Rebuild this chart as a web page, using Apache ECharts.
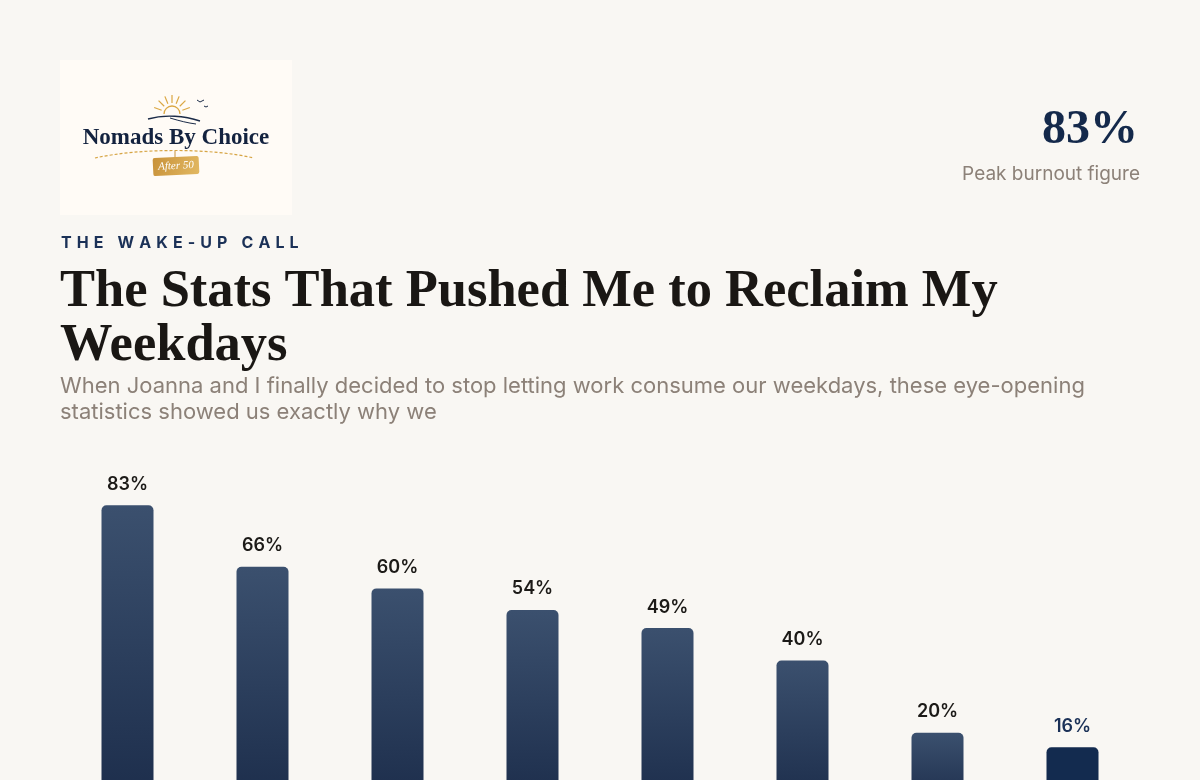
<!DOCTYPE html>
<html>
<head>
<meta charset="utf-8">
<script src="https://cdn.jsdelivr.net/npm/echarts@6/dist/echarts.min.js"></script>
<style>
  html, body { margin: 0; padding: 0; background: #f9f7f3; overflow: hidden; }
  #chart { width: 1200px; height: 860px; }
</style>
</head>
<body>
<div id="chart"></div>
<script>
// ---- Data ----
const categories = ['Stat 1', 'Stat 2', 'Stat 3', 'Stat 4', 'Stat 5', 'Stat 6', 'Stat 7', 'Stat 8'];
const values = [83, 66, 60, 54, 49, 40, 20, 16];
const highlightIndex = 7;
const eyebrow = 'THE WAKE-UP CALL';
const titleLines = ['The Stats That Pushed Me to Reclaim My', 'Weekdays'];
const subtitleLines = [
  'When Joanna and I finally decided to stop letting work consume our weekdays, these eye-opening',
  'statistics showed us exactly why we'
];
const kpiValue = '83%';
const kpiLabel = 'Peak burnout figure';

// ---- Styling ----
const NAVY = '#14294b';
const SANS = 'Inter, "Noto Sans", sans-serif';
const SERIF = '"Liberation Serif", "DejaVu Serif", serif';

const chart = echarts.init(document.getElementById('chart'), null, { renderer: 'canvas' });

// letter-spaced eyebrow: one text element per character
const mctx = document.createElement('canvas').getContext('2d');
const eyebrowFont = '700 16px Inter';
mctx.font = eyebrowFont;
const eyebrowEls = [];
let ex = 61;
for (const ch of eyebrow) {
  eyebrowEls.push({
    type: 'text', x: ex, y: 243,
    style: { text: ch, fill: '#1b3157', font: eyebrowFont, textVerticalAlign: 'middle' }
  });
  ex += mctx.measureText(ch).width + 5.1;
}

const gold = new echarts.graphic.LinearGradient(0, 0, 1, 1, [
  { offset: 0, color: '#c8923a' }, { offset: 1, color: '#e2b862' }
]);

// sun rays
const sunCx = 172, sunCy = 114;
const rays = [];
[160, 135, 112, 90, 68, 45, 20].forEach(function (a) {
  const r = a * Math.PI / 180;
  rays.push({
    type: 'line',
    shape: {
      x1: sunCx + Math.cos(r) * 11, y1: sunCy - Math.sin(r) * 11,
      x2: sunCx + Math.cos(r) * 19, y2: sunCy - Math.sin(r) * 19
    },
    style: { stroke: '#dba743', lineWidth: 1.2 }
  });
});

const logo = [
  { type: 'rect', shape: { x: 60, y: 60, width: 232, height: 155 }, style: { fill: '#fffbf6' } },
  { type: 'arc', shape: { cx: sunCx, cy: sunCy, r: 8, startAngle: Math.PI, endAngle: 2 * Math.PI },
    style: { stroke: '#dba743', fill: null, lineWidth: 1.3 } }
].concat(rays).concat([
  { type: 'bezierCurve', shape: { x1: 148, y1: 119, x2: 200, y2: 121, cpx1: 165, cpy1: 114, cpx2: 185, cpy2: 116 },
    style: { stroke: '#1b2b48', lineWidth: 1.4, fill: null } },
  { type: 'bezierCurve', shape: { x1: 170, y1: 118, x2: 196, y2: 124, cpx1: 180, cpy1: 121, cpx2: 188, cpy2: 123 },
    style: { stroke: '#1b2b48', lineWidth: 1, fill: null } },
  { type: 'polyline', shape: { points: [[197, 100], [200, 102], [204, 100]] }, style: { stroke: '#1b2b48', lineWidth: 1, fill: null } },
  { type: 'polyline', shape: { points: [[204, 106], [206, 107], [208, 106]] }, style: { stroke: '#1b2b48', lineWidth: 1, fill: null } },
  { type: 'text', x: 176, y: 138, style: { text: 'Nomads By Choice', fill: '#13223f',
      font: '700 23px ' + SERIF, textAlign: 'center', textVerticalAlign: 'middle' } },
  { type: 'bezierCurve', shape: { x1: 95, y1: 158, x2: 254, y2: 158, cpx1: 140, cpy1: 148, cpx2: 210, cpy2: 148 },
    style: { stroke: '#d6a443', lineWidth: 1.2, lineDash: [3, 2], fill: null } },
  { type: 'line', shape: { x1: 175, y1: 151, x2: 175, y2: 158 }, style: { stroke: '#c8923a', lineWidth: 1 } },
  { type: 'group', x: 176, y: 166, rotation: 0.05, children: [
      { type: 'rect', shape: { x: -23, y: -9, width: 46, height: 18, r: 2 }, style: { fill: gold } },
      { type: 'text', x: 0, y: 0, style: { text: 'After 50', fill: '#ffffff',
          font: 'italic 11px ' + SERIF, textAlign: 'center', textVerticalAlign: 'middle' } }
  ] }
]);

const header = [
  { type: 'text', right: 62, top: 107, style: { text: kpiValue, fill: NAVY, font: '700 48px ' + SERIF, textAlign: 'right' } },
  { type: 'text', right: 60, top: 165, style: { text: kpiLabel, fill: '#8c8178', font: '400 19px ' + SANS, textAlign: 'right' } },
  { type: 'text', left: 60, top: 265, style: { text: titleLines.join('\n'), fill: '#1a1714',
      font: '700 52.5px ' + SERIF, lineHeight: 54 } },
  { type: 'text', left: 60, top: 373, style: { text: subtitleLines.join('\n'), fill: '#8c8178',
      font: '400 22px ' + SANS, lineHeight: 26 } }
];

const barGradient = new echarts.graphic.LinearGradient(0, 0, 0, 1, [
  { offset: 0, color: '#3b506e' }, { offset: 1, color: '#1c2d4b' }
]);

const seriesData = values.map(function (v, i) {
  const hi = i === highlightIndex;
  return {
    value: v,
    itemStyle: { color: hi ? '#132b4f' : barGradient },
    label: { color: hi ? '#1b3157' : '#1c1a17' }
  };
});

chart.setOption({
  backgroundColor: '#f9f7f3',
  animation: false,
  grid: { left: 60, top: 444, width: 1080, height: 361, containLabel: false },
  xAxis: {
    type: 'category', data: categories,
    axisLine: { show: false }, axisTick: { show: false }, axisLabel: { show: false }
  },
  yAxis: {
    type: 'value', min: 0, max: 100, interval: 20,
    splitLine: { show: false }, axisLabel: { show: false }, axisLine: { show: false }
  },
  series: [{
    type: 'bar', data: seriesData, barWidth: 52,
    itemStyle: { borderRadius: [5, 5, 0, 0] },
    label: { show: true, position: 'top', distance: 12, formatter: '{c}%',
      fontFamily: SANS, fontWeight: 600, fontSize: 18 }
  }],
  graphic: logo.concat(header).concat(eyebrowEls)
});
</script>
</body>
</html>
